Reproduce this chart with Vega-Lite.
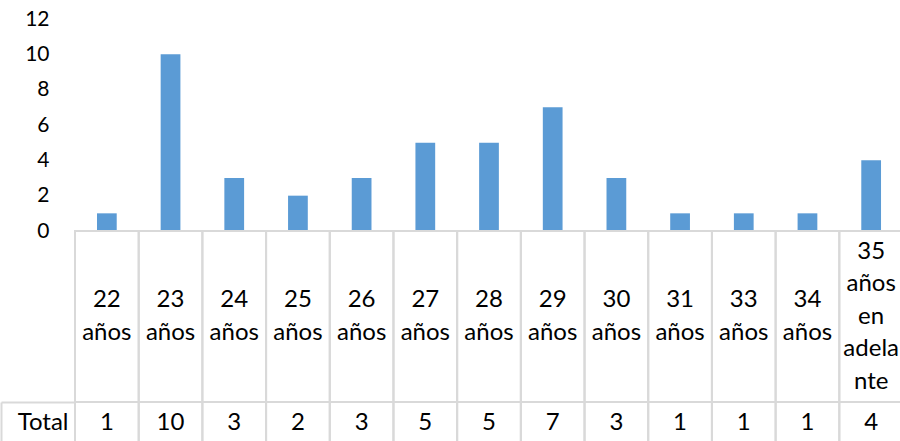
{
  "$schema": "https://vega.github.io/schema/vega-lite/v6.json",
  "padding": {"left": 0, "top": 8, "right": 0, "bottom": 0},
  "background": "white",
  "config": {"view": {"stroke": null}, "font": "Lato"},
  "data": {
    "values": [
      {"edad": "22 años", "lineas": ["22", "años"], "total": 1},
      {"edad": "23 años", "lineas": ["23", "años"], "total": 10},
      {"edad": "24 años", "lineas": ["24", "años"], "total": 3},
      {"edad": "25 años", "lineas": ["25", "años"], "total": 2},
      {"edad": "26 años", "lineas": ["26", "años"], "total": 3},
      {"edad": "27 años", "lineas": ["27", "años"], "total": 5},
      {"edad": "28 años", "lineas": ["28", "años"], "total": 5},
      {"edad": "29 años", "lineas": ["29", "años"], "total": 7},
      {"edad": "30 años", "lineas": ["30", "años"], "total": 3},
      {"edad": "31 años", "lineas": ["31", "años"], "total": 1},
      {"edad": "33 años", "lineas": ["33", "años"], "total": 1},
      {"edad": "34 años", "lineas": ["34", "años"], "total": 1},
      {"edad": "35 años en adelante", "lineas": ["35", "años", "en", "adela", "nte"], "total": 4}
    ]
  },
  "spacing": 0,
  "bounds": "flush",
  "vconcat": [
    {
      "width": 828,
      "height": 212,
      "mark": {"type": "bar", "color": "#5B9BD5", "width": {"band": 0.31}},
      "encoding": {
        "x": {"field": "edad", "type": "nominal", "sort": null, "scale": {"paddingInner": 0, "paddingOuter": 0}, "axis": null},
        "y": {
          "field": "total", "type": "quantitative",
          "scale": {"domain": [0, 12], "nice": false},
          "axis": {"values": [0, 2, 4, 6, 8, 10, 12], "domain": false, "ticks": false, "grid": false, "labelPadding": 26, "labelFontSize": 21, "labelFont": "Lato", "labelColor": "#000000", "title": null}
        }
      }
    },
    {
      "width": 828,
      "height": 171,
      "layer": [
        {
          "mark": {"type": "bar", "fill": "transparent", "stroke": "#d9d9d9", "strokeWidth": 2},
          "encoding": {
            "x": {"field": "edad", "type": "nominal", "sort": null, "scale": {"paddingInner": 0, "paddingOuter": 0}, "axis": null}
          }
        },
        {
          "mark": {"type": "text", "font": "Lato", "fontSize": 24, "lineHeight": 32.5, "color": "#000000", "dy": {"expr": "-(length(datum.lineas) - 1) * 16.25"}},
          "encoding": {
            "x": {"field": "edad", "type": "nominal", "sort": null, "axis": null},
            "text": {"field": "lineas", "type": "nominal"}
          }
        }
      ]
    },
    {
      "width": 828,
      "height": 41,
      "layer": [
        {
          "mark": {"type": "bar", "fill": "transparent", "stroke": "#d9d9d9", "strokeWidth": 2},
          "encoding": {
            "x": {"field": "edad", "type": "nominal", "sort": null, "scale": {"paddingInner": 0, "paddingOuter": 0}, "axis": null},
            "y": {
              "datum": "Total", "type": "nominal",
              "scale": {"paddingInner": 0, "paddingOuter": 0},
              "axis": {"title": null, "offset": 74, "domainColor": "#d9d9d9", "domainWidth": 2, "ticks": true, "tickSize": -74, "tickColor": "#d9d9d9", "tickWidth": 2, "bandPosition": 0, "labelPadding": 7, "labelFont": "Lato", "labelFontSize": 24, "labelColor": "#000000", "labelAlign": "right"}
            }
          }
        },
        {
          "mark": {"type": "text", "font": "Lato", "fontSize": 24, "color": "#000000"},
          "encoding": {
            "x": {"field": "edad", "type": "nominal", "sort": null, "axis": null},
            "y": {"datum": "Total", "type": "nominal"},
            "text": {"field": "total", "type": "quantitative"}
          }
        }
      ]
    }
  ]
}
